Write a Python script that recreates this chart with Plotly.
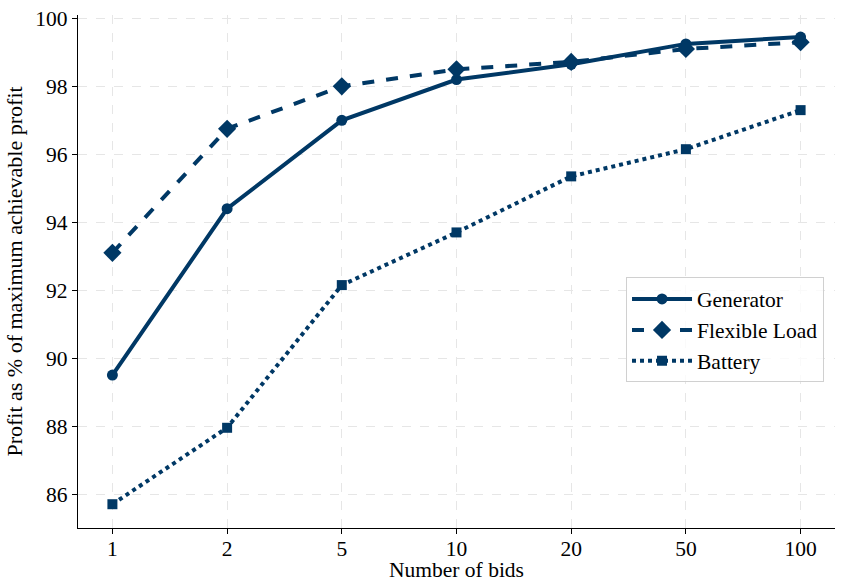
import plotly.graph_objects as go

bids = ["1", "2", "5", "10", "20", "50", "100"]
generator = [89.5, 94.4, 97.0, 98.2, 98.65, 99.25, 99.45]
flexible_load = [93.1, 96.75, 98.0, 98.5, 98.72, 99.1, 99.3]
battery = [85.7, 87.95, 92.15, 93.7, 95.35, 96.15, 97.3]

color = "#003865"
xi = list(range(len(bids)))

fig = go.Figure()
fig.add_trace(go.Scatter(x=xi, y=generator, name="Generator", mode="lines+markers",
                         line=dict(color=color, width=4),
                         marker=dict(symbol="circle", size=11, color=color)))
fig.add_trace(go.Scatter(x=xi, y=flexible_load, name="Flexible Load", mode="lines+markers",
                         line=dict(color=color, width=4, dash="dash"),
                         marker=dict(symbol="diamond", size=14, color=color)))
fig.add_trace(go.Scatter(x=xi, y=battery, name="Battery", mode="lines+markers",
                         line=dict(color=color, width=4, dash="dot"),
                         marker=dict(symbol="square", size=10, color=color)))

font = "Liberation Serif, Times New Roman, serif"
fs = 21.5
fig.update_layout(
    width=843, height=582,
    margin=dict(l=78, r=8, t=15, b=54),
    plot_bgcolor="white", paper_bgcolor="white",
    font=dict(family=font, size=fs, color="black"),
    showlegend=True,
    legend=dict(x=0.9855, y=0.386, xanchor="right", yanchor="middle",
                bgcolor="rgba(255,255,255,0.8)", bordercolor="#d0d0d0", borderwidth=1,
                font=dict(family=font, size=fs), itemwidth=60, tracegroupgap=2),
)
fig.update_xaxes(
    range=[-0.3, 6.3], tickmode="array", tickvals=xi, ticktext=bids,
    showline=True, linecolor="black", linewidth=1.2, mirror=False,
    ticks="outside", ticklen=5, tickcolor="black", ticklabelstandoff=-4,
    showgrid=True, gridcolor="#e6e6e6", griddash="dash", gridwidth=1,
    zeroline=False, tickfont=dict(family=font, size=fs), automargin=False,
    title=dict(text="Number of bids", font=dict(family=font, size=fs), standoff=8),
)
fig.update_yaxes(
    range=[85.0, 100.1], tickmode="array", tickvals=[86, 88, 90, 92, 94, 96, 98, 100],
    showline=True, linecolor="black", linewidth=1.2, mirror=False,
    ticks="outside", ticklen=5, tickcolor="black",
    showgrid=True, gridcolor="#e6e6e6", griddash="dash", gridwidth=1,
    zeroline=False, tickfont=dict(family=font, size=fs), automargin=False,
    title=dict(text="Profit as % of maximum achievable profit", font=dict(family=font, size=22), standoff=6),
)

fig.write_html("out.html", config={"displayModeBar": False},
               post_script="document.body.style.margin='0';")
